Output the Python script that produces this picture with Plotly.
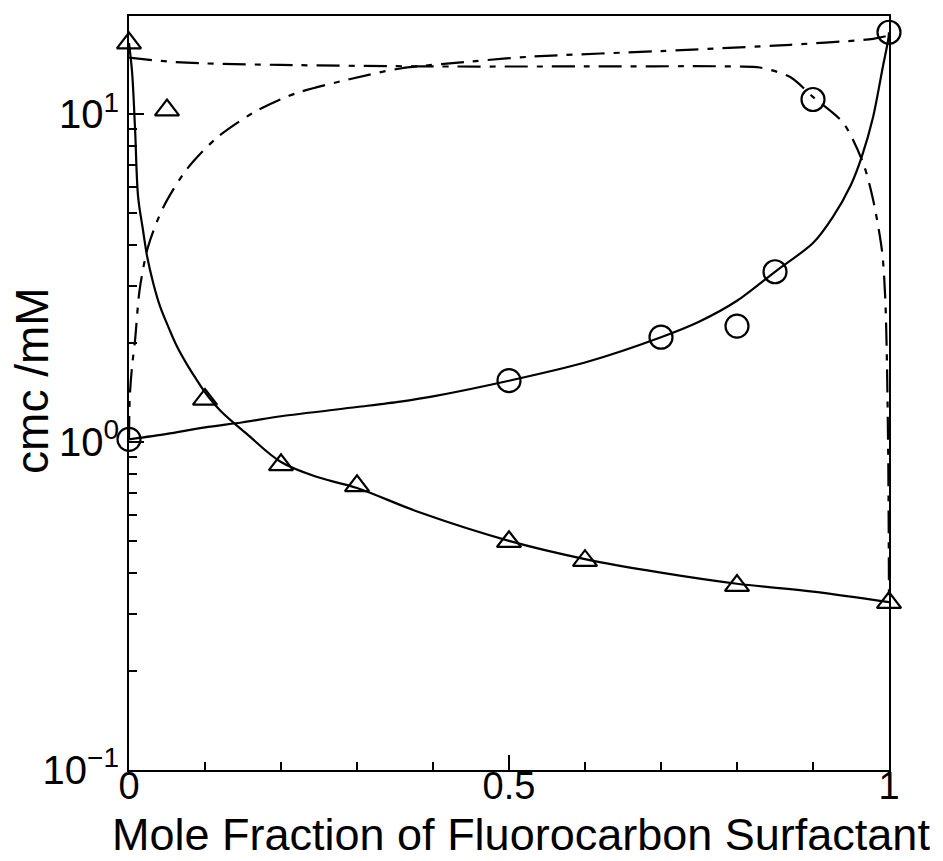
import plotly.graph_objects as go

# ---- measured data (mole fraction of fluorocarbon surfactant, cmc / mM) ----
tri_x = [0.0, 0.05, 0.1, 0.2, 0.3, 0.5, 0.6, 0.8, 1.0]
tri_y = [16.5, 10.3, 1.35, 0.853, 0.736, 0.497, 0.435, 0.365, 0.324]

circ_x = [0.0, 0.5, 0.7, 0.8, 0.85, 0.9, 1.0]
circ_y = [1.02, 1.54, 2.09, 2.26, 3.31, 11.1, 17.8]

# ---- theoretical curves ----
fit_circ_x = [0.0, 0.05, 0.1, 0.15, 0.2, 0.3, 0.357, 0.4, 0.5, 0.6, 0.7, 0.75, 0.8,
              0.85, 0.9, 0.926, 0.95, 0.964, 0.979, 0.992, 0.999, 1.0]
fit_circ_y = [1.02, 1.06, 1.11, 1.15, 1.20, 1.28, 1.33, 1.38, 1.54, 1.75, 2.09, 2.33, 2.70,
              3.31, 4.05, 4.86, 6.1, 7.4, 9.8, 14.0, 16.9, 17.8]

fit_tri_x = [0.0, 0.004, 0.008, 0.012, 0.018, 0.024, 0.032, 0.041, 0.052, 0.063, 0.076,
             0.089, 0.1, 0.12, 0.155, 0.2, 0.25, 0.3, 0.383, 0.5, 0.6, 0.7, 0.8, 0.9, 1.0]
fit_tri_y = [16.5, 13.5, 9.0, 5.6, 4.5, 3.67, 3.05, 2.59, 2.24, 1.96, 1.73,
             1.55, 1.42, 1.25, 1.06, 0.87, 0.78, 0.725, 0.61, 0.50, 0.44, 0.40, 0.37, 0.35, 0.325]

mic_circ_x = [0.0, 0.001, 0.004, 0.008, 0.014, 0.025, 0.045, 0.076, 0.116, 0.163,
              0.199, 0.225, 0.29, 0.357, 0.45, 0.53, 0.7, 0.87, 0.979, 1.0]
mic_circ_y = [1.02, 1.37, 1.7, 2.05, 2.92, 3.94, 5.2, 6.8, 8.5, 10.1,
              11.1, 11.7, 12.8, 13.8, 14.5, 15.0, 15.6, 16.3, 17.0, 17.4]

mic_tri_x = [0.0, 0.05, 0.1, 0.2, 0.4, 0.6, 0.8, 0.83, 0.87, 0.9, 0.94, 0.966,
             0.979, 0.991, 0.995, 0.997, 0.999, 1.0]
mic_tri_y = [14.9, 14.5, 14.3, 14.15, 14.0, 14.0, 14.0, 13.9, 13.0, 11.3, 9.4, 7.1,
             5.5, 3.8, 2.77, 1.9, 0.9, 0.33]

y_tickvals = [0.1, 1, 10]
y_ticktext = ["10<sup>\u22121</sup>", "10<sup>0</sup>", "10<sup>1</sup>"]
x_tickvals = [0, 0.5, 1]
x_ticktext = ["0", "0.5", "1"]
y_minor = [m * 10 ** e for e in (-1, 0, 1) for m in range(2, 10)]

FONT = "Liberation Sans, Arial, Helvetica, sans-serif"
DASH = "23px,9px,6px,9px"
LW = 2.2

fig = go.Figure()
fig.add_trace(go.Scatter(x=mic_circ_x, y=mic_circ_y, mode="lines", line_shape="spline",
                         line=dict(color="black", width=LW, dash=DASH, smoothing=0.8),
                         showlegend=False))
fig.add_trace(go.Scatter(x=mic_tri_x, y=mic_tri_y, mode="lines", line_shape="spline",
                         line=dict(color="black", width=LW, dash=DASH, smoothing=0.8),
                         showlegend=False))
fig.add_trace(go.Scatter(x=fit_circ_x, y=fit_circ_y, mode="lines", line_shape="spline",
                         line=dict(color="black", width=LW, smoothing=0.8), showlegend=False))
fig.add_trace(go.Scatter(x=fit_tri_x, y=fit_tri_y, mode="lines", line_shape="spline",
                         line=dict(color="black", width=LW, smoothing=1.0), showlegend=False))
fig.add_trace(go.Scatter(x=circ_x, y=circ_y, mode="markers",
                         marker=dict(symbol="circle-open", size=23, color="black",
                                     line=dict(width=2.2, color="black")),
                         cliponaxis=False, showlegend=False))
fig.add_trace(go.Scatter(x=tri_x, y=tri_y, mode="markers",
                         marker=dict(symbol="triangle-up-open", size=21, color="black",
                                     line=dict(width=2.2, color="black")),
                         cliponaxis=False, showlegend=False))

fig.update_layout(
    width=943, height=861,
    margin=dict(l=129, r=54, t=16, b=91),
    paper_bgcolor="white", plot_bgcolor="white",
    font=dict(family=FONT, color="black", size=40),
    xaxis=dict(range=[0, 1], tickvals=x_tickvals, ticktext=x_ticktext,
               ticks="inside", ticklen=15, tickwidth=2, tickcolor="black",
               showline=True, linewidth=2, linecolor="black", mirror=True,
               showgrid=False, zeroline=False, ticklabelstandoff=-19,
               tickfont=dict(size=38, family=FONT),
               minor=dict(dtick=0.1, ticks="inside", ticklen=8, tickwidth=1.5,
                          tickcolor="black", showgrid=False)),
    yaxis=dict(type="log", range=[-1, 1.3], tickvals=y_tickvals, ticktext=y_ticktext,
               ticks="inside", ticklen=15, tickwidth=2, tickcolor="black",
               showline=True, linewidth=2, linecolor="black", mirror=True,
               showgrid=False, zeroline=False,
               tickfont=dict(size=40, family=FONT),
               minor=dict(tickvals=y_minor, ticks="inside", ticklen=8, tickwidth=1.5,
                          tickcolor="black", showgrid=False)),
    annotations=[
        dict(text="Mole Fraction of Fluorocarbon Surfactant", xref="paper", yref="paper",
             x=0.516, y=-0.086, xanchor="center", yanchor="middle", showarrow=False,
             font=dict(size=45, family=FONT, color="black")),
        dict(text="cmc /mM", xref="paper", yref="paper", x=-0.128, y=0.517,
             xanchor="center", yanchor="middle", showarrow=False, textangle=-90,
             font=dict(size=46, family=FONT, color="black")),
    ],
)

fig.write_html("out.html")
